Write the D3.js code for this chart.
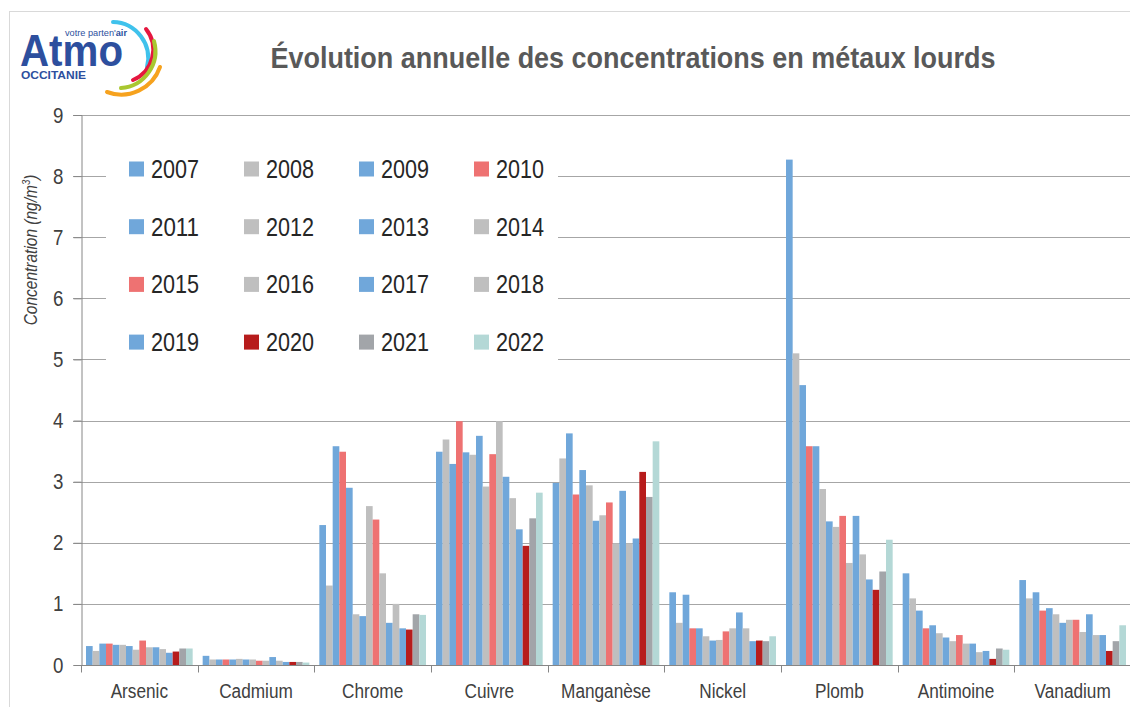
<!DOCTYPE html>
<html>
<head>
<meta charset="utf-8">
<script src="https://cdn.jsdelivr.net/npm/d3@7"></script>
<style>
  body { margin: 0; background: #fff; }
  svg text { font-family: "Liberation Sans Narrow", "Arial Narrow", "Liberation Sans", Arial, sans-serif; }
</style>
</head>
<body>
<svg id="chart" width="1130" height="707"></svg>
<script>
// categories and series
const metals = ['Arsenic', 'Cadmium', 'Chrome', 'Cuivre', 'Manganèse', 'Nickel', 'Plomb', 'Antimoine', 'Vanadium'];
const years = ['2007', '2008', '2009', '2010', '2011', '2012', '2013', '2014',
  '2015', '2016', '2017', '2018', '2019', '2020', '2021', '2022'];
const yearColors = ['#70a7da', '#bfbfbf', '#70a7da', '#ee7272', '#70a7da', '#bfbfbf', '#70a7da', '#bfbfbf',
  '#ee7272', '#bfbfbf', '#70a7da', '#bfbfbf', '#70a7da', '#b71c1c', '#a2a5a9', '#b4d8d6'];
const yTicks = [0, 1, 2, 3, 4, 5, 6, 7, 8, 9];

// values per metal, one per year 2007 -> 2022 (ng/m3)
const arsenic   = [0.31, 0.23, 0.35, 0.35, 0.33, 0.33, 0.31, 0.25, 0.40, 0.29, 0.29, 0.26, 0.20, 0.22, 0.27, 0.27];
const cadmium   = [0.15, 0.09, 0.09, 0.09, 0.09, 0.10, 0.09, 0.09, 0.07, 0.07, 0.13, 0.07, 0.05, 0.05, 0.05, 0.04];
const chrome    = [2.29, 1.30, 3.58, 3.49, 2.90, 0.83, 0.80, 2.60, 2.38, 1.50, 0.69, 1.00, 0.60, 0.58, 0.83, 0.82];
const cuivre    = [3.49, 3.69, 3.29, 3.99, 3.48, 3.44, 3.75, 2.92, 3.45, 3.99, 3.08, 2.73, 2.22, 1.95, 2.40, 2.82];
const manganese = [2.98, 3.38, 3.79, 2.79, 3.19, 2.94, 2.36, 2.45, 2.66, 1.99, 2.85, 1.99, 2.07, 3.16, 2.75, 3.66];
const nickel    = [1.19, 0.69, 1.15, 0.60, 0.60, 0.47, 0.40, 0.41, 0.55, 0.60, 0.86, 0.60, 0.39, 0.40, 0.39, 0.47];
const plomb     = [8.27, 5.10, 4.58, 3.58, 3.58, 2.88, 2.35, 2.26, 2.44, 1.67, 2.44, 1.81, 1.40, 1.23, 1.53, 2.05];
const antimoine = [1.50, 1.09, 0.89, 0.60, 0.65, 0.52, 0.45, 0.39, 0.49, 0.35, 0.35, 0.21, 0.23, 0.10, 0.27, 0.25];
const vanadium  = [1.39, 1.09, 1.19, 0.89, 0.93, 0.83, 0.69, 0.74, 0.74, 0.54, 0.83, 0.49, 0.49, 0.23, 0.39, 0.65];

const values = [arsenic, cadmium, chrome, cuivre, manganese, nickel, plomb, antimoine, vanadium];

const svg = d3.select('#chart');
const W = 1130, H = 707;
const plot = { left: 81, right: 1131, top: 115, bottom: 665 };

// squeeze text horizontally to look like a narrow font
function narrow(sel, k) {
  sel.each(function() {
    const w = this.getComputedTextLength();
    d3.select(this).attr('textLength', w * k).attr('lengthAdjust', 'spacingAndGlyphs');
  });
}

svg.append('rect').attr('width', W).attr('height', H).attr('fill', '#fff');
// outer frame
svg.append('rect')
  .attr('x', 9.5).attr('y', 11.5)
  .attr('width', W + 10).attr('height', H + 10)
  .attr('fill', 'none').attr('stroke', '#d9d9d9');

const y = d3.scaleLinear().domain([0, 9]).range([plot.bottom, plot.top]);
const x0 = d3.scaleBand().domain(metals).range([plot.left, plot.right]);
const x1 = d3.scaleBand().domain(years).range([5, x0.bandwidth() - 5]);

// gridlines
svg.append('g')
  .selectAll('line')
  .data(yTicks.filter(d => d > 0))
  .join('line')
  .attr('x1', plot.left - 8).attr('x2', plot.right)
  .attr('y1', d => Math.round(y(d)) + 0.5).attr('y2', d => Math.round(y(d)) + 0.5)
  .attr('stroke', '#a6a6a6').attr('stroke-width', 1);

// legend box (white, hides gridlines behind it)
const legend = svg.append('g');
legend.append('rect')
  .attr('x', 106).attr('y', 138).attr('width', 452).attr('height', 228)
  .attr('fill', '#fff');

// bars
const groups = svg.append('g')
  .selectAll('g')
  .data(metals)
  .join('g')
  .attr('transform', d => `translate(${x0(d)},0)`);

groups.selectAll('rect')
  .data((d, i) => values[i].map((v, j) => ({ year: years[j], v, c: yearColors[j] })))
  .join('rect')
  .attr('x', d => x1(d.year))
  .attr('width', x1.bandwidth())
  .attr('y', d => y(d.v))
  .attr('height', d => y(0) - y(d.v))
  .attr('fill', d => d.c);

// y axis
const yAxis = d3.axisLeft(y).tickValues(yTicks).tickSize(8).tickPadding(10);
const yg = svg.append('g')
  .attr('transform', `translate(${plot.left + 0.5},0)`)
  .call(yAxis);
yg.select('.domain').attr('stroke', '#868686');
yg.selectAll('.tick line').attr('stroke', '#868686');
yg.selectAll('.tick text')
  .attr('font-size', 22).attr('fill', '#404040')
  .style('font-family', '"Liberation Sans Narrow", "Arial Narrow", "Liberation Sans", sans-serif')
  .call(narrow, 0.85);

// x axis
const xg = svg.append('g')
  .attr('transform', `translate(0,${plot.bottom + 0.5})`);
xg.append('line')
  .attr('x1', plot.left).attr('x2', plot.right)
  .attr('stroke', '#868686');
xg.selectAll('.tk')
  .data(metals.concat(['end']))
  .join('line')
  .attr('class', 'tk')
  .attr('x1', (d, i) => Math.round(plot.left + i * x0.step()) + 0.5)
  .attr('x2', (d, i) => Math.round(plot.left + i * x0.step()) + 0.5)
  .attr('y1', 0).attr('y2', 7)
  .attr('stroke', '#868686');
xg.selectAll('.lbl')
  .data(metals)
  .join('text')
  .attr('class', 'lbl')
  .attr('x', d => x0(d) + x0.bandwidth() / 2)
  .attr('y', 32)
  .attr('text-anchor', 'middle')
  .attr('font-size', 20)
  .attr('fill', '#404040')
  .text(d => d)
  .call(narrow, 0.86);

// y axis title
const yt = svg.append('text')
  .attr('transform', 'translate(37,250) rotate(-90)')
  .attr('text-anchor', 'middle')
  .attr('font-size', 18)
  .attr('font-style', 'italic')
  .attr('fill', '#404040');
yt.append('tspan').text('Concentration (ng/m');
yt.append('tspan').attr('font-size', 11).attr('dy', -7).text('3');
yt.append('tspan').attr('dy', 7).text(')');
yt.call(narrow, 0.86);

// legend entries, 4 columns
legend.selectAll('g.item')
  .data(years)
  .join('g')
  .attr('class', 'item')
  .attr('transform', (d, i) => `translate(${129 + (i % 4) * 115},${169 + Math.floor(i / 4) * 57.7})`)
  .each(function(d, i) {
    const g = d3.select(this);
    g.append('rect')
      .attr('x', 0).attr('y', -7.5).attr('width', 15).attr('height', 15)
      .attr('fill', yearColors[i]);
    g.append('text')
      .attr('x', 22).attr('y', 9)
      .attr('font-size', 26)
      .attr('fill', '#262626')
      .text(d)
      .attr('textLength', 48).attr('lengthAdjust', 'spacingAndGlyphs');
  });

// title
svg.append('text')
  .attr('x', 633).attr('y', 68)
  .attr('text-anchor', 'middle')
  .attr('font-size', 29)
  .attr('font-weight', 'bold')
  .attr('fill', '#595959')
  .text('Évolution annuelle des concentrations en métaux lourds')
  .attr('textLength', 725).attr('lengthAdjust', 'spacingAndGlyphs');

// logo
const logo = svg.append('g')
  .style('font-family', '"Liberation Sans", Arial, sans-serif');
logo.append('text')
  .attr('x', 20).attr('y', 66)
  .attr('font-size', 45).attr('font-weight', 'bold')
  .attr('fill', '#2d4f9e')
  .style('font-family', '"Liberation Sans", Arial, sans-serif')
  .text('Atmo')
  .attr('textLength', 103).attr('lengthAdjust', 'spacingAndGlyphs');
const tag = logo.append('text')
  .attr('x', 65).attr('y', 36)
  .attr('font-size', 9.5)
  .attr('fill', '#2d4f9e')
  .style('font-family', '"Liberation Sans", Arial, sans-serif');
tag.append('tspan').text("votre parten'");
tag.append('tspan').attr('font-weight', 'bold').text('air');
tag.attr('textLength', 62).attr('lengthAdjust', 'spacingAndGlyphs');
logo.append('text')
  .attr('x', 21).attr('y', 79)
  .attr('font-size', 11.5).attr('font-weight', 'bold')
  .attr('fill', '#2d4f9e')
  .style('font-family', '"Liberation Sans", Arial, sans-serif')
  .text('OCCITANIE')
  .attr('textLength', 65).attr('lengthAdjust', 'spacingAndGlyphs');

// coloured swooshes of the logo
const swooshes = [
  { c: '#3fc2ec', d: 'M113,22 A36,36 0 0 1 147,67' },
  { c: '#e5173f', d: 'M146,29 A33,33 0 0 1 133,80' },
  { c: '#a9c730', d: 'M154,41 A37,37 0 0 1 121,88' },
  { c: '#f6a21e', d: 'M160,67 A41,41 0 0 1 107,92' }
];
logo.selectAll('path')
  .data(swooshes)
  .join('path')
  .attr('d', d => d.d)
  .attr('fill', 'none')
  .attr('stroke', d => d.c)
  .attr('stroke-width', 4)
  .attr('stroke-linecap', 'round');
</script>
</body>
</html>
